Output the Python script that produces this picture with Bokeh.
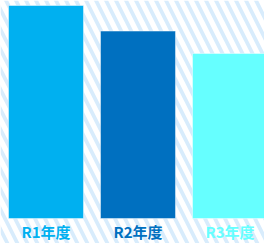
from bokeh.plotting import figure
from bokeh.models import Range1d, BoxAnnotation, ColumnDataSource, GlobalInlineStyleSheet
from bokeh.core.properties import value
from bokeh.embed import file_html
from bokeh.resources import INLINE

categories = ["R1年度", "R2年度", "R3年度"]
values = [100, 88, 77.5]
colors = ["#00b0f0", "#0070c0", "#66ffff"]

xs = list(range(len(categories)))
src = ColumnDataSource(dict(x=xs, top=values, color=colors, label=categories))

css = GlobalInlineStyleSheet(css="body{margin:0 !important;}")

p = figure(width=264, height=243,
           x_range=Range1d(-0.4945, 2.375), y_range=Range1d(-11.74, 102.35),
           output_backend="svg", toolbar_location=None, min_border=0,
           outline_line_color=None, stylesheets=[css])
p.axis.visible = False
p.xgrid.visible = False
p.ygrid.visible = False
p.background_fill_color = "white"
p.border_fill_color = "white"

bg = BoxAnnotation(fill_color="white", fill_alpha=1.0, hatch_pattern="\\", hatch_color="#d8ecfc",
                   hatch_scale=20, hatch_weight=3.8, line_color=None, level="underlay")
p.add_layout(bg)

p.vbar(x="x", top="top", bottom=0, width=0.815, fill_color="color",
       line_color="white", line_alpha=0.45, line_width=1, source=src)

p.text(x="x", y=-6.2, text="label", text_color="color",
       text_font=value("Noto Sans CJK JP"), text_font_size="15px", text_font_style="bold",
       text_align="center", text_baseline="middle", source=src)

open("out.html", "w").write(file_html(p, INLINE))
